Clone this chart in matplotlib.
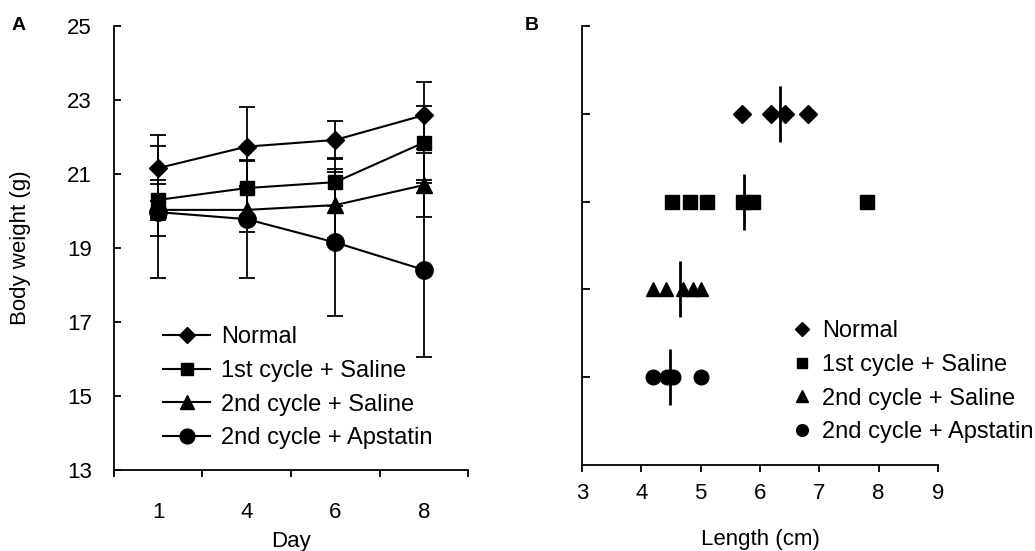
import matplotlib
matplotlib.use("Agg")
import matplotlib.pyplot as plt

plt.rcParams["font.family"] = ["Liberation Sans", "DejaVu Sans"]
plt.rcParams["font.size"] = 16

# Panel A: body weight over days
days = ["1", "4", "6", "8"]
groups = ["Normal", "1st cycle + Saline", "2nd cycle + Saline", "2nd cycle + Apstatin"]
markers = ["D", "s", "^", "o"]
sizes_a = [9, 9.5, 12, 12.5]
weight_normal = [21.16, 21.74, 21.92, 22.59]
weight_sal1 = [20.30, 20.62, 20.78, 21.85]
weight_sal2 = [20.03, 20.03, 20.16, 20.70]
weight_aps = [19.97, 19.78, 19.15, 18.41]
err_normal = [0.89, 1.06, 0.52, 0.91]
err_sal1 = [0.55, 0.76, 0.65, 1.00]
err_sal2 = [0.70, 0.60, 0.90, 0.87]
err_aps = [1.78, 1.58, 1.99, 2.36]

# Panel B: individual lengths and group means
len_normal = [5.69, 6.19, 6.42, 6.81]
len_sal1 = [4.51, 4.82, 5.10, 5.72, 5.88, 7.80]
len_sal2 = [4.20, 4.41, 4.70, 4.87, 5.01]
len_aps = [4.20, 4.43, 4.53, 5.01]
len_means = [6.33, 5.73, 4.65, 4.48]
rows_b = [4, 3, 2, 1]
sizes_b = [8.7, 9.5, 10.5, 10.5]

fig = plt.figure(figsize=(10.35, 5.51), dpi=100)
axA = fig.add_axes([0.1101, 0.147, 0.3421, 0.8058])
axB = fig.add_axes([0.5623, 0.156, 0.3440, 0.7968])

weights = [weight_normal, weight_sal1, weight_sal2, weight_aps]
errs = [err_normal, err_sal1, err_sal2, err_aps]
xpos = list(range(1, len(days) + 1))
lines_a = []
for name, w, e, m, ms in zip(groups, weights, errs, markers, sizes_a):
    cont = axA.errorbar(xpos, w, yerr=e, color="black", marker=m, ms=ms, lw=1.5,
                        elinewidth=1.3, capsize=6, capthick=1.3, label=name)
    lines_a.append(cont.lines[0])

axA.set_xlim(0.5, 4.5)
axA.set_ylim(13, 25)
axA.set_yticks(range(13, 26, 2))
axA.set_xticks(xpos)
axA.set_xticklabels(days)
axA.set_xticks([0.5, 1.5, 2.5, 3.5, 4.5], minor=True)
axA.tick_params(axis="x", which="major", length=0, pad=23)
axA.tick_params(axis="x", which="minor", length=5, width=1.3, direction="out")
axA.tick_params(axis="y", length=5, width=1.3, direction="in", pad=16)
for s in ["top", "right"]:
    axA.spines[s].set_visible(False)
for s in ["left", "bottom"]:
    axA.spines[s].set_linewidth(1.3)
axA.set_xlabel("Day", labelpad=6)
axA.set_ylabel("Body weight (g)", labelpad=26)
axA.legend(lines_a, groups, loc="upper left",
           bbox_to_anchor=(163 / 1035, 1 - 326 / 551),
           bbox_transform=fig.transFigure, frameon=False, borderpad=0,
           borderaxespad=0, handlelength=2.0, handletextpad=0.45,
           labelspacing=0.5, markerscale=0.85, fontsize=17)

lengths = [len_normal, len_sal1, len_sal2, len_aps]
for name, vals, row, m, ms in zip(groups, lengths, rows_b, markers, sizes_b):
    axB.plot(vals, [row] * len(vals), ls="none", marker=m, ms=ms,
             color="black", label=name)
axB.plot(len_means, rows_b, ls="none", marker="|", ms=40, mew=2,
         color="black")

axB.set_xlim(3, 9)
axB.set_ylim(0, 5)
axB.set_xticks(range(3, 10))
axB.set_yticks(range(1, 6))
axB.set_yticklabels([])
axB.tick_params(axis="x", length=5, width=1.3, direction="out", pad=8)
axB.tick_params(axis="y", length=6, width=1.3, direction="in")
for s in ["top", "right"]:
    axB.spines[s].set_visible(False)
for s in ["left", "bottom"]:
    axB.spines[s].set_linewidth(1.3)
axB.set_xlabel("Length (cm)", labelpad=18)
handles, labels = axB.get_legend_handles_labels()
axB.legend(handles[:4], labels[:4], loc="upper left",
           bbox_to_anchor=(790 / 1035, 1 - 320 / 551),
           bbox_transform=fig.transFigure, frameon=False, borderpad=0,
           borderaxespad=0, handlelength=1.0, handletextpad=0.35,
           labelspacing=0.5, markerscale=0.8, fontsize=17)

fig.text(12 / 1035, 1 - 25 / 551, "A", fontweight="bold", fontsize=14,
         va="center", ha="left")
fig.text(525 / 1035, 1 - 25 / 551, "B", fontweight="bold", fontsize=14,
         va="center", ha="left")

fig.savefig("out.png", dpi=100)
